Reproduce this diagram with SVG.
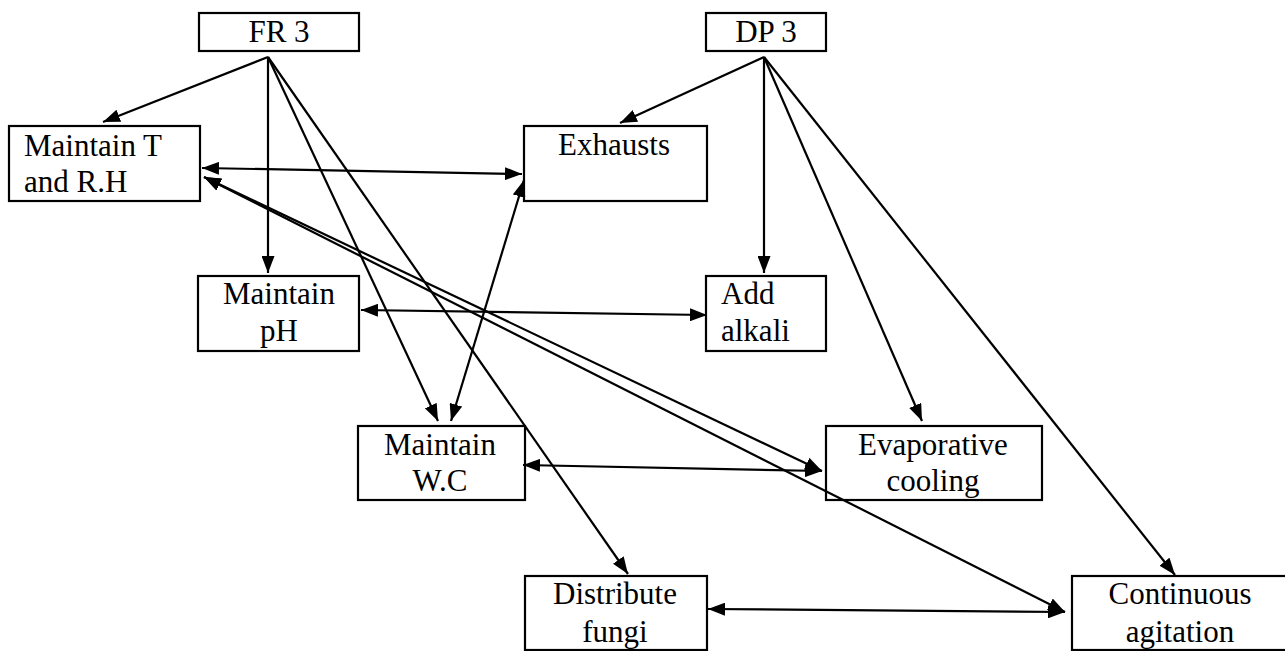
<svg xmlns="http://www.w3.org/2000/svg" width="1285" height="651" viewBox="0 0 1285 651">
  <style>
    .box { fill: none; stroke: #000000; stroke-width: 2.2; }
    .lbl { font-family: "Liberation Serif", "Times New Roman", serif; font-size: 31px; fill: #000000; }
    .c { text-anchor: middle; }
    .edge { fill: none; stroke: #000000; stroke-width: 2.2; }
    .one { marker-end: url(#head); }
    .two { marker-start: url(#head); marker-end: url(#head); }
  </style>
  <defs>
    <marker id="head" viewBox="0 0 17 13" refX="17" refY="6.5" markerWidth="17" markerHeight="13" markerUnits="userSpaceOnUse" orient="auto-start-reverse">
      <path d="M0,0 L17,6.5 L0,13 z" fill="#000000"/>
    </marker>
  </defs>
  <rect width="1285" height="651" fill="#ffffff"/>

  <g id="connectors">
    <!-- FR 3 fan-out -->
    <line class="edge one" x1="268" y1="57" x2="103" y2="122"/>
    <line class="edge one" x1="268" y1="57" x2="268" y2="273"/>
    <line class="edge one" x1="268" y1="57" x2="438" y2="421"/>
    <line class="edge one" x1="268" y1="57" x2="628" y2="574"/>
    <!-- DP 3 fan-out -->
    <line class="edge one" x1="764" y1="57" x2="620" y2="123"/>
    <line class="edge one" x1="764" y1="57" x2="764" y2="273"/>
    <line class="edge one" x1="764" y1="57" x2="922" y2="421"/>
    <line class="edge one" x1="764" y1="57" x2="1175" y2="575"/>
    <!-- FR/DP couplings -->
    <line class="edge two" x1="202" y1="168" x2="522" y2="174"/>
    <line class="edge two" x1="204" y1="177" x2="822" y2="471"/>
    <line class="edge two" x1="204" y1="177" x2="1065" y2="612"/>
    <line class="edge two" x1="361" y1="310" x2="707" y2="315"/>
    <line class="edge two" x1="451" y1="421" x2="524" y2="180"/>
    <line class="edge two" x1="523" y1="465" x2="822" y2="471"/>
    <line class="edge two" x1="708" y1="609" x2="1065" y2="612"/>
  </g>

  <g id="fr3">
    <rect class="box" x="199" y="13" width="160" height="38"/>
    <text class="lbl c" x="279" y="42">FR 3</text>
  </g>
  <g id="dp3">
    <rect class="box" x="706" y="13" width="120" height="38"/>
    <text class="lbl c" x="766" y="42">DP 3</text>
  </g>
  <g id="maintain-t-rh">
    <rect class="box" x="9" y="126" width="191" height="75"/>
    <text class="lbl" x="24" y="156">Maintain T</text>
    <text class="lbl" x="24" y="192">and R.H</text>
  </g>
  <g id="exhausts">
    <rect class="box" x="524" y="126" width="183" height="75"/>
    <text class="lbl c" x="614" y="155">Exhausts</text>
  </g>
  <g id="maintain-ph">
    <rect class="box" x="198" y="276" width="161" height="75"/>
    <text class="lbl c" x="279" y="304">Maintain</text>
    <text class="lbl c" x="279" y="341">pH</text>
  </g>
  <g id="add-alkali">
    <rect class="box" x="706" y="276" width="120" height="75"/>
    <text class="lbl" x="721" y="304">Add</text>
    <text class="lbl" x="721" y="341">alkali</text>
  </g>
  <g id="maintain-wc">
    <rect class="box" x="358" y="426" width="167" height="74"/>
    <text class="lbl c" x="440" y="455">Maintain</text>
    <text class="lbl c" x="440" y="491">W.C</text>
  </g>
  <g id="evaporative-cooling">
    <rect class="box" x="826" y="426" width="216" height="74"/>
    <text class="lbl c" x="933" y="455">Evaporative</text>
    <text class="lbl c" x="933" y="491">cooling</text>
  </g>
  <g id="distribute-fungi">
    <rect class="box" x="525" y="576" width="182" height="74"/>
    <text class="lbl c" x="615" y="604">Distribute</text>
    <text class="lbl c" x="615" y="642">fungi</text>
  </g>
  <g id="continuous-agitation">
    <rect class="box" x="1072" y="576" width="220" height="74"/>
    <text class="lbl c" x="1180" y="604">Continuous</text>
    <text class="lbl c" x="1180" y="642">agitation</text>
  </g>
</svg>
